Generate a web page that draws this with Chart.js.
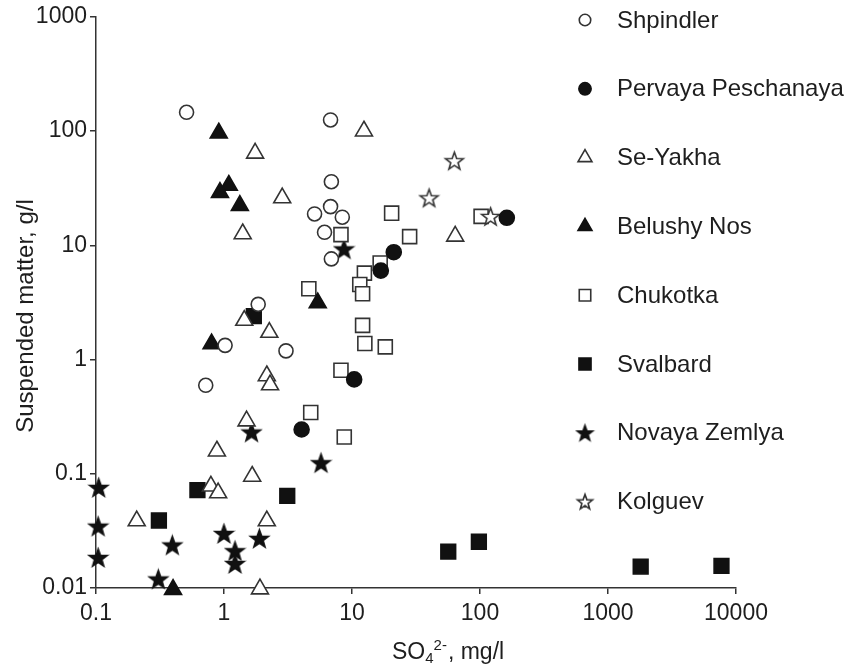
<!DOCTYPE html>
<html>
<head>
<meta charset="utf-8">
<script src="https://cdn.jsdelivr.net/npm/chart.js@4"></script>
<style>
html, body { margin: 0; padding: 0; background: #fff; }
</style>
</head>
<body>
<canvas id="chart_box" width="852" height="664"></canvas>
<script>
// axis ticks
var xTicks = [0.1, 1, 10, 100, 1000, 10000];
var yTicks = [0.01, 0.1, 1, 10, 100, 1000];

var yTitle = "Suspended matter, g/l";
var xTitleMain = "SO";
var xTitleSub = "4";
var xTitleSup = "2-";
var xTitleUnit = ", mg/l";

var seriesNames = ["Shpindler", "Pervaya Peschanaya", "Se-Yakha", "Belushy Nos",
                   "Chukotka", "Svalbard", "Novaya Zemlya", "Kolguev"];

// values (SO4 mg/l, suspended matter g/l)
var shpindlerX = [0.51, 6.8, 6.9, 6.8, 5.1, 8.4, 6.1, 6.9, 1.85, 1.02, 3.05, 0.72];
var shpindlerY = [146, 125, 36, 21.8, 18.8, 17.6, 13.0, 7.6, 3.04, 1.33, 1.19, 0.595];

var pervayaX = [162, 21.2, 16.8, 10.4, 4.04];
var pervayaY = [17.4, 8.7, 6.0, 0.67, 0.244];

var seYakhaX = [12.4, 1.75, 2.85, 1.40, 64, 1.44, 2.26, 2.16, 2.29, 1.50, 0.88, 1.66, 0.79, 0.90, 0.208, 2.16, 1.91];
var seYakhaY = [100, 64, 26, 12.6, 12.0, 2.2, 1.73, 0.72, 0.60, 0.29, 0.158, 0.095, 0.078, 0.068, 0.0387, 0.0387, 0.0098];

var belushyX = [0.91, 1.09, 0.93, 1.33, 5.4, 0.80, 0.40];
var belushyY = [96, 33.5, 29, 22.3, 3.13, 1.37, 0.0097];

var chukotkaX = [20.4, 102, 8.2, 28.2, 16.6, 12.5, 11.5, 12.1, 4.6, 12.1, 12.6, 18.2, 8.2, 4.76, 8.7];
var chukotkaY = [19.1, 17.9, 12.4, 11.9, 7.0, 5.7, 4.54, 3.77, 4.17, 1.99, 1.38, 1.29, 0.805, 0.344, 0.21];

var svalbardX = [1.71, 0.62, 3.12, 0.31, 56.5, 98, 1800, 7700];
var svalbardY = [2.4, 0.072, 0.064, 0.039, 0.0208, 0.0254, 0.0154, 0.0156];

var novayaX = [8.66, 1.64, 5.73, 0.105, 0.104, 1.0, 1.89, 0.395, 1.22, 0.104, 1.22, 0.307];
var novayaY = [9.3, 0.232, 0.125, 0.076, 0.0348, 0.030, 0.0272, 0.0238, 0.0212, 0.0185, 0.0164, 0.012];

var kolguevX = [63, 40, 121];
var kolguevY = [55, 26, 17.9];

var ink = '#111';
var edge = '#333';
var textColor = '#1e1e1e';
var fontFamily = '"Liberation Sans", Arial, Helvetica, sans-serif';

function pts(xs, ys) {
    return xs.map(function (x, i) { return {x: x, y: ys[i]}; });
}

function shapePath(g, shape, x, y, r) {
    g.beginPath();
    if (shape === 'circle') {
        g.arc(x, y, r, 0, Math.PI * 2);
    } else if (shape === 'triangle') {
        for (var k = 0; k < 3; k++) {
            var a = -Math.PI / 2 + k * 2 * Math.PI / 3;
            g.lineTo(x + r * Math.cos(a), y + r * Math.sin(a));
        }
        g.closePath();
    } else if (shape === 'rect') {
        var s = r * Math.SQRT1_2;
        g.rect(x - s, y - s, 2 * s, 2 * s);
    } else if (shape === 'star') {
        y += 0.095 * r;
        for (var j = 0; j < 10; j++) {
            var rad = j % 2 === 0 ? r : r * 0.41;
            var b = -Math.PI / 2 + j * Math.PI / 5;
            g.lineTo(x + rad * Math.cos(b), y + rad * Math.sin(b));
        }
        g.closePath();
    }
}

function paintShape(g, shape, filled, x, y, r) {
    shapePath(g, shape, x, y, r);
    g.fillStyle = filled ? ink : '#fff';
    g.fill();
    g.lineWidth = 1.6;
    g.strokeStyle = filled ? ink : edge;
    g.stroke();
}

function makeStar(filled, r) {
    var c = document.createElement('canvas');
    var s = Math.ceil(2 * r + 4);
    c.width = s;
    c.height = s;
    paintShape(c.getContext('2d'), 'star', filled, s / 2, s / 2, r);
    return c;
}

function makeDataset(name, xs, ys, shape, filled, r, order) {
    return {
        label: name,
        data: pts(xs, ys),
        order: order || 0,
        shape: shape,
        filled: filled,
        r: r,
        pointStyle: shape === 'star' ? makeStar(filled, r) : shape,
        pointRadius: r,
        pointHoverRadius: r,
        pointBackgroundColor: filled ? ink : '#fff',
        pointBorderColor: filled ? ink : edge,
        pointBorderWidth: 1.6,
        clip: false
    };
}

//----------------------------
// legend and axis titles
//----------------------------
var overlay = {
    id: 'overlay',
    afterDraw: function (chart) {
        var ctx = chart.ctx;
        ctx.save();
        chart.data.datasets.forEach(function (ds, i) {
            var y = 20 + i * 68.8;
            if (ds.shape === 'star') {
                var img = makeStar(ds.filled, ds.r * 0.85);
                ctx.drawImage(img, 585 - img.width / 2, y - img.height / 2);
            } else {
                paintShape(ctx, ds.shape, ds.filled, 585, y, ds.r * 0.82);
            }
            ctx.fillStyle = textColor;
            ctx.font = '24px ' + fontFamily;
            ctx.textAlign = 'left';
            ctx.textBaseline = 'middle';
            ctx.fillText(ds.label, 617, y + 1);
        });

        // y title
        ctx.fillStyle = textColor;
        ctx.font = '24px ' + fontFamily;
        ctx.textBaseline = 'alphabetic';
        ctx.save();
        ctx.translate(33, 316);
        ctx.rotate(-Math.PI / 2);
        ctx.textAlign = 'center';
        ctx.fillText(yTitle, 0, 0);
        ctx.restore();

        // x title with sub/superscript
        ctx.textAlign = 'left';
        var x = 392;
        ctx.font = '23px ' + fontFamily;
        ctx.fillText(xTitleMain, x, 659);
        x += ctx.measureText(xTitleMain).width;
        ctx.font = '15px ' + fontFamily;
        ctx.fillText(xTitleSub, x, 663);
        var sx = x + ctx.measureText(xTitleSub).width;
        ctx.fillText(xTitleSup, sx, 650);
        x = sx + ctx.measureText(xTitleSup).width + 1;
        ctx.font = '23px ' + fontFamily;
        ctx.fillText(xTitleUnit, x, 659);
        ctx.restore();
    }
};

var axisStyle = {
    grid: {drawOnChartArea: false, drawTicks: true, tickLength: 6, color: edge, lineWidth: 1.5},
    border: {display: true, color: edge, width: 1.5}
};

var chart = new Chart(document.getElementById('chart_box').getContext('2d'), {
    type: 'scatter',
    data: {
        datasets: [
            makeDataset(seriesNames[0], shpindlerX, shpindlerY, 'circle', false, 7),
            makeDataset(seriesNames[1], pervayaX, pervayaY, 'circle', true, 7.5, -2),
            makeDataset(seriesNames[2], seYakhaX, seYakhaY, 'triangle', false, 9.8),
            makeDataset(seriesNames[3], belushyX, belushyY, 'triangle', true, 9.8),
            makeDataset(seriesNames[4], chukotkaX, chukotkaY, 'rect', false, 9.9),
            makeDataset(seriesNames[5], svalbardX, svalbardY, 'rect', true, 10.4),
            makeDataset(seriesNames[6], novayaX, novayaY, 'star', true, 9.5),
            makeDataset(seriesNames[7], kolguevX, kolguevY, 'star', false, 9.3, -1)
        ]
    },
    options: {
        responsive: false,
        animation: false,
        layout: {padding: {top: 16, right: 116, left: 0, bottom: 0}},
        plugins: {
            legend: {display: false},
            tooltip: {enabled: false}
        },
        scales: {
            x: Object.assign({
                type: 'logarithmic',
                position: 'bottom',
                min: 0.1,
                max: 10000,
                afterBuildTicks: function (s) { s.ticks = xTicks.map(function (v) { return {value: v}; }); },
                afterFit: function (s) { s.height = 76; },
                ticks: {
                    autoSkip: false, maxRotation: 0, padding: 6,
                    color: textColor, font: {family: fontFamily, size: 23},
                    callback: function (v) { return String(v); }
                }
            }, axisStyle),
            y: Object.assign({
                type: 'logarithmic',
                position: 'left',
                min: 0.01,
                max: 1000,
                afterBuildTicks: function (s) { s.ticks = yTicks.map(function (v) { return {value: v}; }); },
                afterFit: function (s) { s.width = 96; },
                ticks: {
                    autoSkip: false, padding: 3,
                    color: textColor, font: {family: fontFamily, size: 23},
                    callback: function (v) { return String(v); }
                }
            }, axisStyle)
        }
    },
    plugins: [overlay]
});
</script>
</body>
</html>
